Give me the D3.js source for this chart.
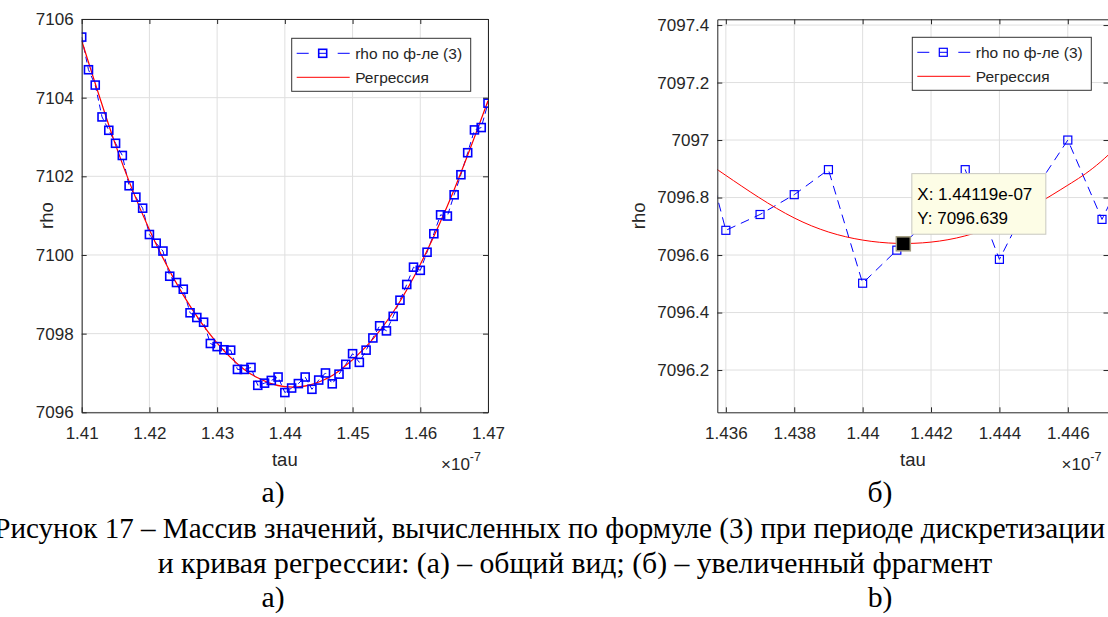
<!DOCTYPE html>
<html lang="ru">
<head>
<meta charset="utf-8">
<style>
  body { margin: 0; background: #fff; }
  svg { display: block; }
  .lbl { font-family: 'Liberation Sans', Arial, sans-serif; fill: #262626; }
  .cap { font-family: 'Liberation Serif', 'Times New Roman', serif; fill: #000; }
</style>
</head>
<body>
<div id="chart"></div>
<script src="https://d3js.org/d3.v7.min.js"></script>
<script>
// rho по формуле (3), tau в единицах 1e-7
const tau = [1.410, 1.411, 1.412, 1.413, 1.414, 1.415, 1.416, 1.417, 1.418, 1.419,
             1.420, 1.421, 1.422, 1.423, 1.424, 1.425, 1.426, 1.427, 1.428, 1.429,
             1.430, 1.431, 1.432, 1.433, 1.434, 1.435, 1.436, 1.437, 1.438, 1.439,
             1.440, 1.441, 1.442, 1.443, 1.444, 1.445, 1.446, 1.447, 1.448, 1.449,
             1.450, 1.451, 1.452, 1.453, 1.454, 1.455, 1.456, 1.457, 1.458, 1.459,
             1.460, 1.461, 1.462, 1.463, 1.464, 1.465, 1.466, 1.467, 1.468, 1.469, 1.470];
const rho = [7105.54, 7104.71, 7104.32, 7103.51, 7103.17, 7102.84, 7102.53, 7101.76, 7101.47, 7101.19,
             7100.52, 7100.30, 7100.10, 7099.46, 7099.30, 7099.13, 7098.53, 7098.41, 7098.29, 7097.75,
             7097.67, 7097.59, 7097.58, 7097.09, 7097.09, 7097.14, 7096.686, 7096.741, 7096.81, 7096.897,
             7096.502, 7096.617, 7096.73, 7096.897, 7096.585, 7096.82, 7097.00, 7096.724, 7096.97, 7097.22,
             7097.49, 7097.27, 7097.58, 7097.89, 7098.20, 7098.07, 7098.44, 7098.85, 7099.25, 7099.69,
             7099.61, 7100.07, 7100.54, 7101.02, 7100.99, 7101.53, 7102.04, 7102.60, 7103.18, 7103.24, 7103.86];

// кривая регрессии (точки)
const regTau = [1.410, 1.415, 1.420, 1.425, 1.430, 1.434, 1.436, 1.438, 1.440, 1.442,
                1.444, 1.446, 1.448, 1.452, 1.456, 1.460, 1.465, 1.470];
const regRho = [7105.45, 7102.80, 7100.64, 7098.98, 7097.76, 7097.09, 7096.877, 7096.729, 7096.652, 7096.645,
                7096.709, 7096.843, 7097.048, 7097.67, 7098.55, 7099.76, 7101.66, 7103.92];

// метка данных на правом графике
const tipTau = 1.44119, tipRho = 7096.639;

const legendLabels = ['rho по ф-ле (3)', 'Регрессия'];
const xTicksA = [1.41, 1.42, 1.43, 1.44, 1.45, 1.46, 1.47];
const yTicksA = [7096, 7098, 7100, 7102, 7104, 7106];
const xTicksB = [1.436, 1.438, 1.44, 1.442, 1.444, 1.446];
const yTicksB = [7096.2, 7096.4, 7096.6, 7096.8, 7097, 7097.2, 7097.4];
const xLimA = [1.41, 1.47], yLimA = [7096, 7106];
const xLimB = [1.43575, 1.44719], yLimB = [7096.053, 7097.42];

const W = 1108, H = 617;
const FONT = "'Liberation Sans', Arial, sans-serif";
const svg = d3.select('#chart').append('svg').attr('width', W).attr('height', H);
svg.append('rect').attr('width', W).attr('height', H).attr('fill', '#fff');

const pts = d3.zip(tau, rho);
const reg = d3.zip(regTau, regRho);
const fmt = d => String(+d.toFixed(6));

function panel(id, box, xLim, yLim, xTicks, yTicks, o) {
    const x = d3.scaleLinear().domain(xLim).range([box.l, box.r]);
    const y = d3.scaleLinear().domain(yLim).range([box.b, box.t]);
    const g = svg.append('g');

    svg.append('clipPath').attr('id', id).append('rect')
        .attr('x', box.l).attr('y', box.t)
        .attr('width', box.r - box.l).attr('height', box.b - box.t);

    // сетка
    g.selectAll('line.gx').data(xTicks).enter().append('line')
        .attr('x1', d => x(d)).attr('x2', d => x(d))
        .attr('y1', box.t).attr('y2', box.b)
        .attr('stroke', '#dfdfdf');
    g.selectAll('line.gy').data(yTicks).enter().append('line')
        .attr('x1', box.l).attr('x2', box.r)
        .attr('y1', d => y(d)).attr('y2', d => y(d))
        .attr('stroke', '#dfdfdf');

    const plot = g.append('g').attr('clip-path', `url(#${id})`);
    plot.append('path').datum(pts)
        .attr('d', d3.line().x(d => x(d[0])).y(d => y(d[1])))
        .attr('fill', 'none').attr('stroke', '#0000ff')
        .attr('stroke-width', 1).attr('stroke-dasharray', o.dash);
    plot.append('path').datum(reg)
        .attr('d', d3.line().curve(d3.curveNatural).x(d => x(d[0])).y(d => y(d[1])))
        .attr('fill', 'none').attr('stroke', '#ff0000').attr('stroke-width', o.regW);
    plot.selectAll('rect.mk')
        .data(pts.filter(d => d[0] >= xLim[0] && d[0] <= xLim[1]))
        .enter().append('rect')
        .attr('x', d => x(d[0]) - 4).attr('y', d => y(d[1]) - 4)
        .attr('width', 8).attr('height', 8)
        .attr('fill', 'none').attr('stroke', '#0000ff').attr('stroke-width', o.mkW);

    // оси
    const axes = [
        [d3.axisBottom(x).tickValues(xTicks).tickFormat(fmt).tickPadding(14.5), `translate(0,${box.b})`],
        [d3.axisLeft(y).tickValues(yTicks).tickFormat(fmt).tickPadding(8), `translate(${box.l},0)`],
        [d3.axisTop(x).tickValues(xTicks).tickFormat(''), `translate(0,${box.t})`],
        [d3.axisRight(y).tickValues(yTicks).tickFormat(''), `translate(${box.r},0)`]
    ];
    axes.forEach(([a, tr]) => {
        const ag = g.append('g').attr('transform', tr)
            .call(a.tickSizeInner(-5).tickSizeOuter(0));
        ag.selectAll('.domain, .tick line').attr('stroke', '#262626');
        ag.selectAll('text').attr('fill', '#262626')
            .style('font-family', FONT).style('font-size', '17px');
    });

    // подписи осей
    const cx = (box.l + box.r) / 2, cy = (box.t + box.b) / 2;
    g.append('text').attr('class', 'lbl').attr('x', cx).attr('y', 466)
        .attr('text-anchor', 'middle').style('font-size', '18.5px').text('tau');
    g.append('text').attr('class', 'lbl')
        .attr('transform', `translate(${o.rhoX},${cy}) rotate(-90)`)
        .attr('dy', '0.36em').attr('text-anchor', 'middle')
        .style('font-size', '18.5px').text('rho');
    const ex = g.append('text').attr('class', 'lbl').attr('x', box.r - 47).attr('y', 470)
        .style('font-size', '17px');
    ex.append('tspan').text('×10');
    ex.append('tspan').attr('dy', -9).style('font-size', '12.5px').text('-7');

    // легенда
    const lg = g.append('g').attr('transform', `translate(${o.legX},${o.legY})`);
    lg.append('rect').attr('width', 179).attr('height', 53)
        .attr('fill', '#fff').attr('stroke', '#333').attr('stroke-width', 1);
    lg.append('line').attr('x1', 5).attr('x2', 58).attr('y1', 15).attr('y2', 15)
        .attr('stroke', '#0000ff').attr('stroke-dasharray', '12,10,8,11,12');
    lg.append('rect').attr('x', 27).attr('y', 11).attr('width', 8).attr('height', 8)
        .attr('fill', 'none').attr('stroke', '#0000ff').attr('stroke-width', o.mkW);
    lg.append('line').attr('x1', 5).attr('x2', 58).attr('y1', 39).attr('y2', 39)
        .attr('stroke', '#ff0000');
    lg.selectAll('text.lt').data(legendLabels).enter().append('text')
        .attr('class', 'lbl').attr('x', 63.5).attr('y', (d, i) => 15 + i * 24)
        .attr('dy', '0.36em').style('font-size', '15.5px').attr('fill', '#000')
        .text(d => d);

    return { x, y, g };
}

const A = panel('clipA', { l: 81.7, r: 488, t: 19, b: 412.3 }, xLimA, yLimA, xTicksA, yTicksA,
    { dash: '6,4', regW: 1.2, mkW: 1.6, rhoX: 46, legX: 291.7, legY: 38.3 });
const B = panel('clipB', { l: 717.3, r: 1108.5, t: 19.3, b: 412.3 }, xLimB, yLimB, xTicksB, yTicksB,
    { dash: '9,6', regW: 1, mkW: 1.2, rhoX: 638, legX: 912.3, legY: 37.3 });

// подсказка с координатами точки
const px = B.x(tipTau), py = B.y(tipRho);
B.g.append('rect').attr('x', px - 7).attr('y', py - 7).attr('width', 14).attr('height', 14)
    .attr('fill', '#000').attr('stroke', '#a39d80').attr('stroke-width', 1.5);
const tip = B.g.append('g').attr('transform', `translate(${px + 8.5},${py - 70.2})`);
tip.append('rect').attr('width', 134).attr('height', 60.6)
    .attr('fill', '#fdfde6').attr('stroke', '#c8c8c0');
tip.selectAll('text').data(['X: ' + d3.format('.6g')(tipTau) + 'e-07', 'Y: ' + d3.format('.7g')(tipRho)])
    .enter().append('text').attr('class', 'lbl')
    .attr('x', 5.5).attr('y', (d, i) => 26.6 + i * 24).style('font-size', '17px').style('fill', '#000')
    .text(d => d);

// подписи рисунка
const cap = [
    { t: 'а)', x: 273, y: 502, a: 'middle' },
    { t: 'б)', x: 880, y: 502, a: 'middle' },
    { t: 'Рисунок 17 – Массив значений, вычисленных по формуле (3) при периоде дискретизации', x: 1105, y: 538, a: 'end' },
    { t: 'и кривая регрессии: (а) – общий вид; (б) – увеличенный фрагмент', x: 575, y: 573, a: 'middle' },
    { t: 'а)', x: 273, y: 607, a: 'middle' },
    { t: 'b)', x: 880, y: 607, a: 'middle' }
];
svg.selectAll('text.cap').data(cap).enter().append('text')
    .attr('class', 'cap').attr('x', d => d.x).attr('y', d => d.y)
    .attr('text-anchor', d => d.a).style('font-size', d => d.t.length > 70 ? '29.1px' : '29.7px')
    .text(d => d.t);
</script>
</body>
</html>
